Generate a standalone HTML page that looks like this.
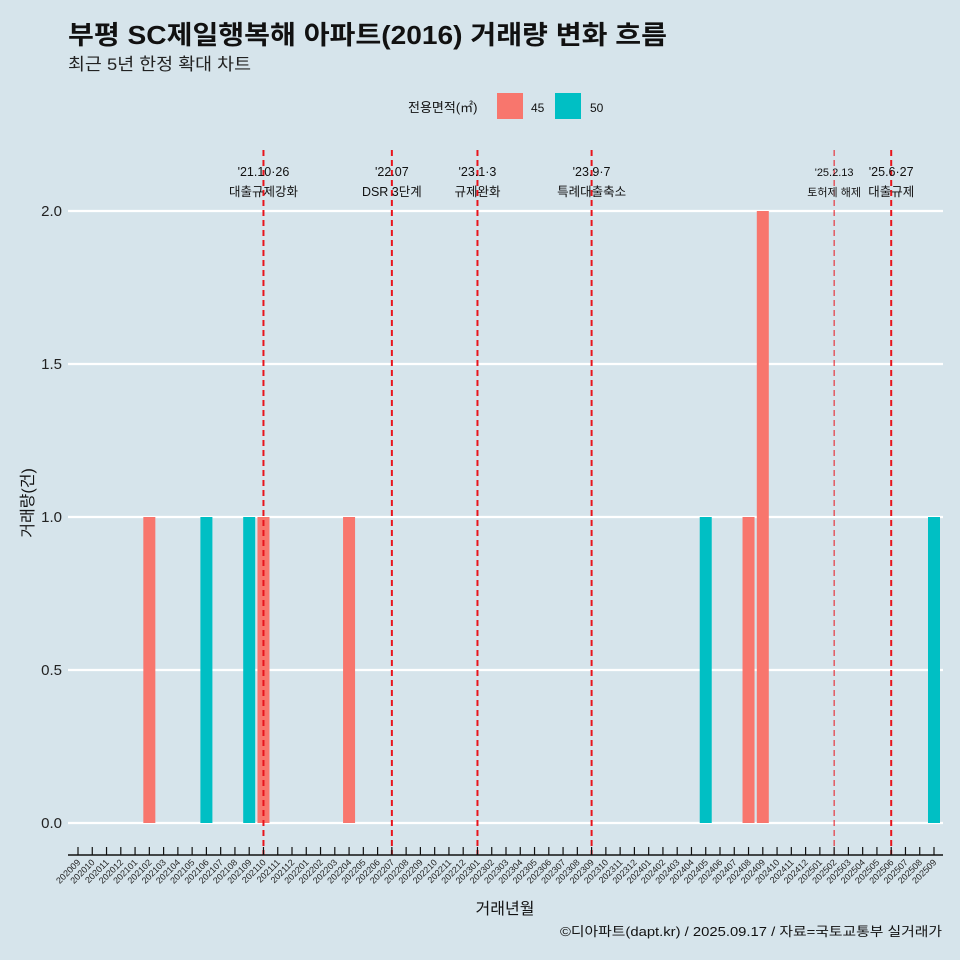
<!DOCTYPE html>
<html><head><meta charset="utf-8"><style>
body{margin:0;background:#d6e4eb;}
svg{display:block;font-family:"Liberation Sans","Noto Sans CJK KR",sans-serif;}
</style></head><body>
<svg id="c" width="960" height="960" viewBox="0 0 960 960">
<rect width="960" height="960" fill="#d6e4eb"/>
<text x="68" y="44" font-size="26" font-weight="bold" fill="#111" textLength="599" lengthAdjust="spacingAndGlyphs">부평 SC제일행복해 아파트(2016) 거래량 변화 흐름</text>
<text x="68" y="70" font-size="17" fill="#222" textLength="183" lengthAdjust="spacingAndGlyphs">최근 5년 한정 확대 차트</text>
<g>
<text x="408" y="112" font-size="13" fill="#111">전용면적(㎡)</text>
<rect x="497" y="93" width="26" height="26" fill="#f8766d"/>
<text x="531" y="112" font-size="12" fill="#111">45</text>
<rect x="555" y="93" width="26" height="26" fill="#00bfc4"/>
<text x="590" y="112" font-size="12" fill="#111">50</text>
</g>
<text transform="translate(33,503) rotate(-90)" text-anchor="middle" font-size="16" fill="#111">거래량(건)</text>
<text x="505" y="914" text-anchor="middle" font-size="16" fill="#111">거래년월</text>
<text x="560" y="936" font-size="13" fill="#111" textLength="382" lengthAdjust="spacingAndGlyphs">©디아파트(dapt.kr) / 2025.09.17 / 자료=국토교통부 실거래가</text>
<g id="grid"></g><g id="bars"></g><g id="events"></g><g id="xaxis"></g>
</svg>
<script>
const months=[];for(let y=2020,m=9;!(y===2025&&m>9);){months.push(''+y+(m<10?'0':'')+m);m++;if(m>12){m=1;y++;}}
const series45Months=['202102','202110','202204','202408','202409'];
const series45Values=[1,1,1,1,2];
const series50Months=['202106','202109','202405','202509'];
const series50Values=[1,1,1,1];
const yTicks=[0,0.5,1,1.5,2];
const yTickLabels=['0.0','0.5','1.0','1.5','2.0'];
const eventMonths=['202110','202207','202301','202309','202502','202506'];
const eventDates=["'21.10·26","'22.07","'23.1·3","'23.9·7","'25.2.13","'25.6·27"];
const eventNames=['대출규제강화','DSR 3단계','규제완화','특례대출축소','토허제 해제','대출규제'];
const NS='http://www.w3.org/2000/svg';
function mk(t,a,p){const e=document.createElementNS(NS,t);for(const k in a)e.setAttribute(k,a[k]);p.appendChild(e);return e;}
const x=i=>78+i*(934-78)/(months.length-1);
const xm=m=>x(months.indexOf(m));
const y=v=>823-v*306;
const grid=document.getElementById('grid');
yTicks.forEach((v,i)=>{
 const l=mk('line',{x1:68,x2:943,y1:y(v),y2:y(v),stroke:'#fff','stroke-width':2.2},grid);
 
 
 const t=mk('text',{x:62,y:y(v)+5,'text-anchor':'end','font-size':15,fill:'#222'},grid);t.textContent=yTickLabels[i];
 
 
});
const bars=document.getElementById('bars');
function drawBar(m,v,col,name){
 const r=mk('rect',{x:xm(m)-6,y:y(v),width:12,height:y(0)-y(v),fill:col},bars);
 
 
}
series45Months.forEach((m,i)=>drawBar(m,series45Values[i],'#f8766d','bar-45-'+m));
series50Months.forEach((m,i)=>drawBar(m,series50Values[i],'#00bfc4','bar-50-'+m));
const ev=document.getElementById('events');
eventMonths.forEach((m,i)=>{
 const X=xm(m);const thin=m==='202502';
 const l=mk('line',{x1:X,x2:X,y1:150,y2:855,stroke:'#e8141c','stroke-width':thin?1:2,'stroke-dasharray':'6,4'},ev);
 
 
 const fs=thin?11:12.5;
 const t1=mk('text',{x:X,y:176,'text-anchor':'middle','font-size':fs,fill:'#111'},ev);t1.textContent=eventDates[i];
 
 
 const t2=mk('text',{x:X,y:196,'text-anchor':'middle','font-size':fs,fill:'#111'},ev);t2.textContent=eventNames[i];
 
 
});
const xa=document.getElementById('xaxis');
const al=mk('line',{x1:68,x2:943,y1:855,y2:855,stroke:'#111','stroke-width':1.5},xa);


months.forEach((m,i)=>{
 const X=x(i);
 const tk=mk('line',{x1:X,x2:X,y1:847,y2:855,stroke:'#111','stroke-width':1.2},xa);
 
 
 const t=mk('text',{x:X+3,y:863,'text-anchor':'end','font-size':9,fill:'#222',transform:`rotate(-45 ${X+3} 863)`},xa);t.textContent=m;
 
 
});
</script>
</body></html>
